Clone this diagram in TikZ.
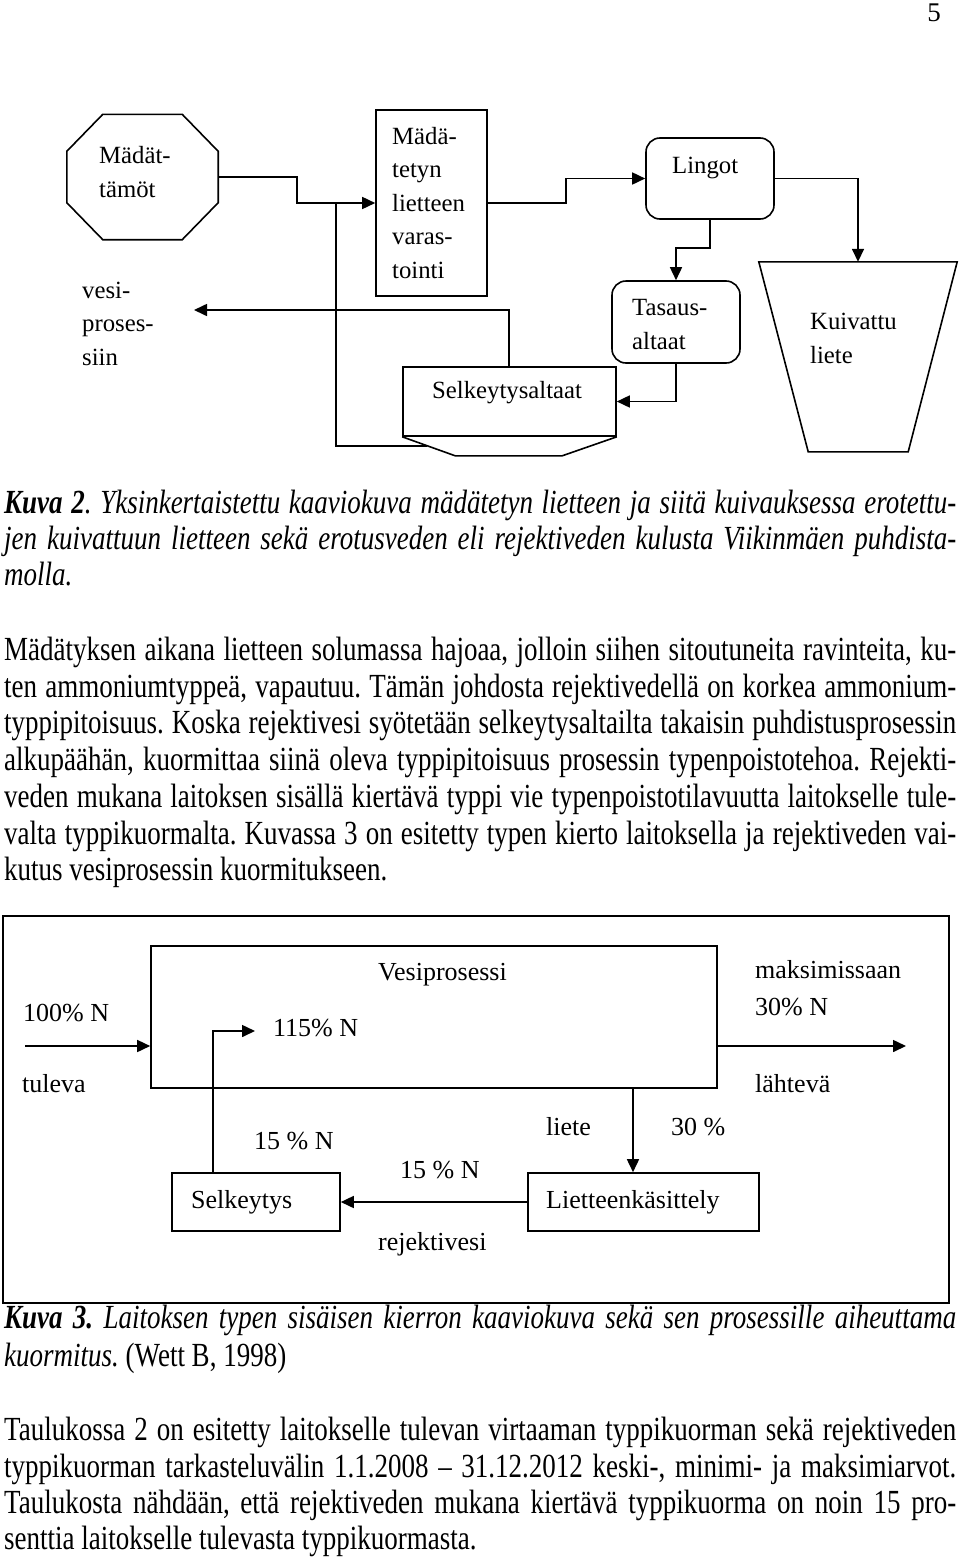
\documentclass[tikz,border=0pt]{standalone}
\usepackage{fontspec}
\setmainfont{Liberation Serif}
\usetikzlibrary{arrows.meta}
\frenchspacing

\newcommand{\bodyfont}{\fontsize{27}{37}\selectfont}
\newcommand{\topfont}{\fontsize{24.75}{33.5}\selectfont}
\newcommand{\botfont}{\fontsize{26}{33}\selectfont}
\newcommand{\tall}[1]{\scalebox{1}[1.25]{#1}}
\newcommand{\fullline}[1]{\tall{\hbox to 952pt{#1}}}

\begin{document}
\begin{tikzpicture}[x=1pt, y=-1pt,
  blk/.style={rectangle, draw, line width=1.6pt, inner sep=0pt},
  rblk/.style={blk, rounded corners=14pt},
  lbl/.style={anchor=base west, inner sep=0pt, align=left, font=\topfont},
  blbl/.style={lbl, font=\botfont},
  pipe/.style={line width=1.6pt},
  flow/.style={pipe, -{Triangle[length=13pt,width=12pt]}},
  txt/.style={anchor=base west, inner sep=0pt, font=\bodyfont}
]
\useasboundingbox (0,0) rectangle (960,1558);

\node[txt, anchor=base east] (pageno) at (941,21) {5};

% Kuva 2
\node[inner sep=0pt, minimum width=151pt, minimum height=125pt] (oct) at (142.5,177) {};
\node[blk, minimum width=111pt, minimum height=186pt] (stor) at (431.5,203) {};
\node[rblk, minimum width=128pt, minimum height=81pt] (ling) at (710,178.5) {};
\node[rblk, minimum width=128pt, minimum height=82pt] (tas) at (676,322) {};
\node[blk, minimum width=213pt, minimum height=69pt] (sa) at (509.5,401.5) {};
\node[inner sep=0pt, minimum width=198pt, minimum height=190pt] (kuiv) at (858,357) {};
\draw[pipe] ([xshift=36pt]oct.north west) -- ([xshift=-36pt]oct.north east) -- ([yshift=-37pt]oct.north east)
  -- ([yshift=37pt]oct.south east) -- ([xshift=-36pt]oct.south east) -- ([xshift=36pt]oct.south west)
  -- ([yshift=37pt]oct.south west) -- ([yshift=-37pt]oct.north west) -- cycle;
\draw[pipe] (sa.south west) -- ++(53,19) -- ++(107,0) -- (sa.south east);
\draw[pipe] (kuiv.north west) -- (kuiv.north east) -- ++(-49,190) -- ++(-100,0) -- cycle;

\node[lbl] (oct-t) at (99,197) {Mädät-\\tämöt};
\node[lbl] (stor-t) at (392,278) {Mädä-\\tetyn\\lietteen\\varas-\\tointi};
\node[lbl] (vesi-t) at (82,365) {vesi-\\proses-\\siin};
\node[lbl] (ling-t) at (672,173) {Lingot};
\node[lbl] (tas-t) at (632,349) {Tasaus-\\altaat};
\node[lbl] (sa-t) at (432,398) {Selkeytysaltaat};
\node[lbl] (kuiv-t) at (810,363) {Kuivattu\\liete};

\coordinate (jn) at (336,203);
\coordinate (hop) at (427,446);
\coordinate (vesi-in) at (194,310);

\draw[flow] (oct.east) -- (297,177) |- (stor.west);
\draw[pipe] (hop) -| (jn);
\draw[flow] (sa.north west) ++(107,0) |- (vesi-in);
\draw[flow] (stor.east) -- (566,203) |- (ling.west);
\draw[flow] (ling.south) -- (710,248) -| (tas.north);
\draw[flow] (tas.south) |- (sa.east);
\draw[flow] (ling.east) -| (kuiv.north);

\node[txt] (cap2a) at (4,513) {\itshape\fullline{\textbf{Kuva 2}. Yksinkertaistettu kaaviokuva mädätetyn lietteen ja siitä kuivauksessa erotettu-}};
\node[txt] (cap2b) at (4,549) {\itshape\fullline{jen kuivattuun lietteen sekä erotusveden eli rejektiveden kulusta Viikinmäen puhdista-}};
\node[txt] (cap2c) at (4,585) {\itshape\tall{molla.}};

\node[txt] (p1a) at (4,660) {\fullline{Mädätyksen aikana lietteen solumassa hajoaa, jolloin siihen sitoutuneita ravinteita, ku-}};
\node[txt] (p1b) at (4,697) {\fullline{ten ammoniumtyppeä, vapautuu. Tämän johdosta rejektivedellä on korkea ammonium-}};
\node[txt] (p1c) at (4,733) {\fullline{typpipitoisuus. Koska rejektivesi syötetään selkeytysaltailta takaisin puhdistusprosessin}};
\node[txt] (p1d) at (4,770) {\fullline{alkupäähän, kuormittaa siinä oleva typpipitoisuus prosessin typenpoistotehoa. Rejekti-}};
\node[txt] (p1e) at (4,807) {\fullline{veden mukana laitoksen sisällä kiertävä typpi vie typenpoistotilavuutta laitokselle tule-}};
\node[txt] (p1f) at (4,844) {\fullline{valta typpikuormalta. Kuvassa 3 on esitetty typen kierto laitoksella ja rejektiveden vai-}};
\node[txt] (p1g) at (4,880) {\tall{kutus vesiprosessin kuormitukseen.}};

% Kuva 3
\draw[pipe] (3,916) rectangle (949,1303);
\node[blk, minimum width=566pt, minimum height=142pt] (vp) at (434,1017) {};
\node[blk, minimum width=168pt, minimum height=58pt] (sk) at (256,1202) {};
\node[blk, minimum width=231pt, minimum height=58pt] (lk) at (643.5,1202) {};

\node[blbl] (vp-t) at (378,980) {Vesiprosessi};
\node[blbl] (in-t) at (23,1021) {100\% N};
\node[blbl] (tul-t) at (22,1092) {tuleva};
\node[blbl] (ret-t) at (273,1036) {115\% N};
\node[blbl] (sk15-t) at (254,1149) {15 \% N};
\node[blbl] (sk-t) at (191,1208) {Selkeytys};
\node[blbl] (rej15-t) at (400,1178) {15 \% N};
\node[blbl] (rej-t) at (378,1250) {rejektivesi};
\node[blbl] (lk-t) at (546,1208) {Lietteenkäsittely};
\node[blbl] (liete-t) at (546,1135) {liete};
\node[blbl] (l30-t) at (671,1135) {30 \%};
\node[blbl] (max-t) at (755,978) {maksimissaan};
\node[blbl] (out30-t) at (755,1015) {30\% N};
\node[blbl] (lah-t) at (755,1092) {lähtevä};

\coordinate (in) at (25,1046);
\coordinate (out) at (906,1046);
\coordinate (ret) at (255,1031);
\coordinate (liete-x) at (633,0);

\draw[flow] (in) -- (in -| vp.west);
\draw[flow] (in -| vp.east) -- (out);
\draw[flow] (sk.north west) ++(42,0) |- (ret);
\draw[flow] (lk.west) -- (sk.east);
\draw[flow] (vp.south -| liete-x) -- (lk.north -| liete-x);

\node[txt] (cap3a) at (4,1328) {\itshape\fullline{\textbf{Kuva 3.} Laitoksen typen sisäisen kierron kaaviokuva sekä sen prosessille aiheuttama}};
\node[txt] (cap3b) at (4,1366) {\tall{{\itshape kuormitus.} (Wett B, 1998)}};

\node[txt] (p2a) at (4,1440) {\fullline{Taulukossa 2 on esitetty laitokselle tulevan virtaaman typpikuorman sekä rejektiveden}};
\node[txt] (p2b) at (4,1477) {\fullline{typpikuorman tarkasteluvälin 1.1.2008 -- 31.12.2012 keski-, minimi- ja maksimiarvot.}};
\node[txt] (p2c) at (4,1513) {\fullline{Taulukosta nähdään, että rejektiveden mukana kiertävä typpikuorma on noin 15 pro-}};
\node[txt] (p2d) at (4,1549) {\tall{senttia laitokselle tulevasta typpikuormasta.}};
\end{tikzpicture}
\end{document}
